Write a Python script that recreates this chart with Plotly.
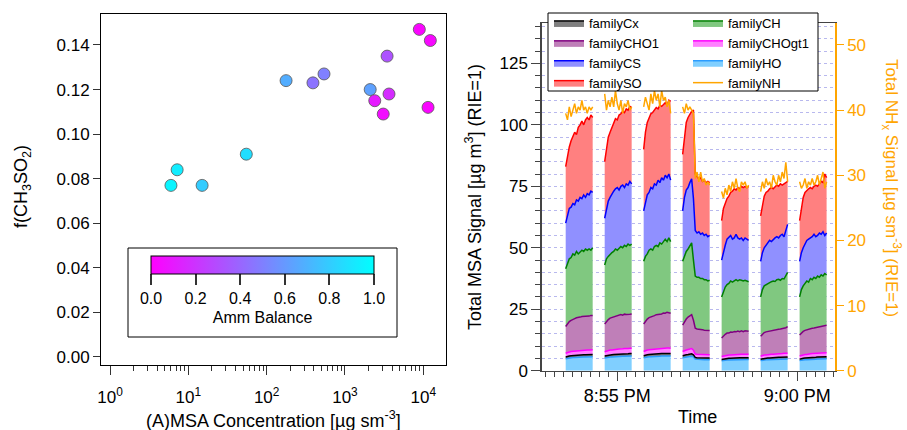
import plotly.graph_objects as go
from datetime import datetime, timedelta

# ---------------- Left panel data ----------------
msa_conc = [8900, 12300, 3450, 540, 390, 177, 2100, 2400, 3650, 3080, 11500, 55, 7.2, 6.0, 15]
f_ch3so2 = [0.147, 0.142, 0.135, 0.127, 0.123, 0.124, 0.120, 0.115, 0.118, 0.109, 0.112,
            0.091, 0.084, 0.077, 0.077]
amm_balance = [0.02, 0.03, 0.32, 0.50, 0.45, 0.68, 0.63, 0.10, 0.17, 0.05, 0.02,
               0.87, 0.93, 0.96, 0.80]
log_major_vals = [1, 10, 100, 1000, 10000]
log_major_text = ["10<sup>0</sup>", "10<sup>1</sup>", "10<sup>2</sup>", "10<sup>3</sup>", "10<sup>4</sup>"]
cbar_ticks = [0.0, 0.2, 0.4, 0.6, 0.8, 1.0]

# ---------------- Right panel data ----------------
base_date = "2019-09-20"
block_starts = ["20:53:34", "20:54:39", "20:55:44", "20:56:49", "20:57:54", "20:58:59", "21:00:04"]
t_offsets = [0, 3, 6, 9, 12, 15, 18, 21, 24, 27, 30, 33, 36, 39, 42, 45]

family_HO = [
    [4.9, 5.1, 5.2, 5.3, 5.4, 5.4, 5.5, 5.5, 5.5, 5.6, 5.6, 5.6, 5.6, 5.7, 5.7, 5.7],
    [5.2, 5.4, 5.5, 5.6, 5.6, 5.7, 5.7, 5.8, 5.8, 5.8, 5.9, 5.9, 5.9, 5.9, 6.0, 6.0],
    [5.3, 5.5, 5.6, 5.7, 5.7, 5.8, 5.8, 5.9, 5.9, 5.9, 6.0, 6.0, 6.0, 6.1, 6.1, 6.0],
    [5.3, 5.5, 5.6, 5.7, 5.8, 5.9, 5.6, 4.7, 4.6, 4.6, 4.6, 4.5, 4.5, 4.5, 4.5, 4.5],
    [4.0, 4.2, 4.3, 4.3, 4.4, 4.4, 4.5, 4.5, 4.5, 4.5, 4.6, 4.6, 4.6, 4.6, 4.6, 4.6],
    [4.1, 4.3, 4.4, 4.4, 4.5, 4.5, 4.6, 4.6, 4.6, 4.7, 4.7, 4.7, 4.7, 4.8, 4.8, 4.8],
    [4.1, 4.3, 4.4, 4.5, 4.5, 4.6, 4.6, 4.7, 4.7, 4.7, 4.8, 4.8, 4.8, 4.9, 4.9, 4.9],
]
family_Cx = [
    [0.7, 0.8, 0.8, 0.8, 0.8, 0.9, 0.8, 0.9, 0.9, 0.8, 0.9, 0.9, 0.9, 0.9, 0.9, 0.9],
    [0.8, 0.8, 0.9, 0.9, 0.9, 0.9, 0.9, 0.9, 1.0, 0.9, 1.0, 1.0, 1.0, 1.0, 1.0, 1.0],
    [0.8, 0.9, 0.9, 0.9, 1.0, 0.9, 1.0, 1.0, 1.0, 1.0, 1.0, 1.0, 1.0, 1.0, 1.0, 1.0],
    [0.8, 0.9, 0.9, 0.9, 1.0, 1.0, 0.9, 0.7, 0.7, 0.7, 0.7, 0.7, 0.7, 0.7, 0.7, 0.7],
    [0.6, 0.6, 0.6, 0.7, 0.7, 0.7, 0.7, 0.7, 0.7, 0.7, 0.7, 0.7, 0.7, 0.7, 0.7, 0.7],
    [0.6, 0.6, 0.7, 0.7, 0.7, 0.7, 0.7, 0.7, 0.7, 0.7, 0.8, 0.8, 0.8, 0.8, 0.8, 0.8],
    [0.6, 0.7, 0.7, 0.7, 0.7, 0.8, 0.8, 0.8, 0.8, 0.8, 0.8, 0.8, 0.8, 0.8, 0.8, 0.8],
]
family_CHOgt1 = [
    [1.5, 1.6, 1.6, 1.7, 1.7, 1.7, 1.8, 1.7, 1.8, 1.8, 1.8, 1.8, 1.9, 1.8, 1.9, 1.9],
    [1.7, 1.8, 1.8, 1.9, 1.9, 2.0, 1.9, 2.0, 2.0, 2.0, 2.0, 2.1, 2.0, 2.1, 2.1, 2.1],
    [1.7, 1.8, 1.9, 1.9, 1.9, 2.0, 2.0, 2.0, 2.0, 2.1, 2.0, 2.1, 2.1, 2.1, 2.1, 2.1],
    [1.7, 1.8, 1.9, 2.0, 2.0, 2.1, 1.8, 1.4, 1.4, 1.4, 1.3, 1.4, 1.3, 1.4, 1.3, 1.3],
    [1.2, 1.2, 1.3, 1.3, 1.3, 1.3, 1.3, 1.4, 1.4, 1.4, 1.4, 1.4, 1.4, 1.4, 1.4, 1.4],
    [1.2, 1.3, 1.3, 1.3, 1.4, 1.4, 1.4, 1.4, 1.4, 1.4, 1.4, 1.5, 1.5, 1.5, 1.5, 1.5],
    [1.3, 1.3, 1.4, 1.4, 1.4, 1.5, 1.5, 1.5, 1.5, 1.5, 1.5, 1.6, 1.6, 1.6, 1.6, 1.6],
]
family_CHO1 = [
    [10.9, 11.8, 12.4, 12.7, 13.1, 13.2, 13.4, 13.4, 13.6, 13.8, 13.7, 13.9, 13.9, 13.8, 14.0, 14.0],
    [11.3, 12.0, 12.6, 13.0, 13.2, 13.5, 13.6, 13.8, 13.7, 14.1, 13.7, 14.0, 14.0, 14.1, 13.9, 14.0],
    [11.2, 12.0, 12.6, 13.1, 13.2, 13.6, 13.6, 13.9, 14.0, 14.2, 14.1, 14.4, 14.3, 14.6, 14.5, 14.3],
    [10.7, 11.8, 12.6, 13.2, 13.5, 13.8, 12.2, 10.5, 10.3, 10.3, 10.2, 10.1, 10.0, 9.9, 9.8, 9.9],
    [7.5, 8.2, 8.6, 9.0, 8.9, 9.3, 9.1, 9.3, 9.2, 9.5, 9.2, 9.5, 9.2, 9.5, 9.3, 9.3],
    [8.1, 8.8, 9.1, 9.4, 9.4, 9.6, 9.7, 9.8, 9.9, 10.0, 10.0, 10.0, 10.1, 10.1, 10.4, 10.8],
    [8.5, 9.2, 9.5, 9.8, 10.1, 10.1, 10.3, 10.3, 10.4, 10.6, 10.7, 10.7, 10.8, 10.9, 11.1, 11.2],
]
family_CH = [
    [23.5, 24.7, 25.5, 25.5, 26.5, 25.8, 27.0, 26.0, 26.7, 27.0, 26.5, 27.3, 26.7, 27.3, 26.5, 27.5],
    [24.0, 25.5, 25.7, 26.1, 26.4, 26.4, 27.4, 26.5, 27.5, 27.7, 27.4, 28.0, 27.6, 28.4, 28.0, 28.4],
    [25.5, 26.3, 26.5, 27.4, 27.7, 26.7, 28.1, 28.2, 27.6, 28.8, 28.4, 29.0, 30.1, 28.7, 30.3, 29.1],
    [26.0, 27.0, 27.5, 27.7, 28.2, 29.2, 24.5, 21.2, 21.0, 21.0, 20.7, 20.8, 20.5, 20.5, 20.2, 20.4],
    [16.7, 18.3, 19.2, 19.7, 20.2, 20.8, 20.4, 20.6, 21.2, 20.4, 21.1, 20.6, 20.6, 20.6, 20.4, 20.2],
    [16.0, 18.0, 19.0, 19.2, 19.5, 19.8, 19.8, 20.0, 19.7, 20.2, 20.3, 19.8, 20.4, 20.1, 21.0, 22.1],
    [15.5, 17.5, 18.5, 19.1, 19.8, 19.0, 20.3, 19.7, 20.6, 19.9, 20.7, 20.1, 21.0, 20.3, 21.1, 20.5],
]
family_CS = [
    [18.5, 19.5, 20.5, 20.5, 20.5, 20.5, 21.0, 21.5, 22.0, 21.0, 23.0, 21.0, 23.0, 22.0, 24.0, 22.5],
    [19.0, 20.5, 22.5, 23.0, 24.0, 24.5, 24.5, 25.5, 23.5, 24.5, 25.5, 23.5, 25.5, 24.0, 26.0, 24.5],
    [20.5, 22.5, 24.0, 23.5, 25.0, 25.0, 25.5, 24.5, 27.0, 24.5, 27.0, 25.0, 26.0, 26.0, 26.0, 25.0],
    [20.5, 23.5, 25.0, 25.0, 26.0, 26.0, 25.0, 18.5, 18.0, 18.5, 18.0, 18.5, 18.0, 18.5, 18.0, 18.2],
    [15.0, 16.0, 17.0, 18.5, 19.0, 18.5, 17.5, 17.5, 18.5, 17.5, 16.5, 17.2, 16.5, 17.2, 17.1, 16.8],
    [14.5, 15.0, 15.5, 16.0, 16.5, 17.0, 16.3, 17.0, 17.7, 17.5, 16.8, 18.2, 18.0, 17.2, 18.5, 19.5],
    [14.5, 15.0, 15.5, 16.0, 16.5, 17.5, 16.5, 17.5, 17.5, 17.0, 16.5, 18.0, 16.5, 18.0, 15.5, 17.0],
]
family_SO = [
    [23.0, 24.5, 25.0, 27.0, 27.0, 29.5, 26.5, 30.0, 29.5, 31.5, 28.5, 31.5, 31.0, 30.5, 31.0, 30.5],
    [23.0, 25.0, 26.0, 26.5, 27.0, 28.0, 28.5, 27.5, 30.5, 29.5, 30.0, 30.5, 30.5, 30.5, 30.5, 31.0],
    [25.0, 28.0, 29.5, 30.5, 30.0, 31.0, 30.0, 31.5, 29.0, 31.5, 29.0, 31.0, 29.5, 29.5, 30.0, 32.0],
    [23.0, 25.5, 27.5, 28.5, 28.0, 27.5, 36.0, 23.0, 23.0, 21.5, 23.0, 21.0, 22.5, 21.0, 22.5, 21.5],
    [16.0, 17.5, 17.0, 16.5, 16.5, 17.5, 19.5, 20.0, 18.0, 20.5, 20.5, 21.0, 21.5, 21.0, 21.0, 22.0],
    [18.5, 20.0, 21.0, 21.5, 21.0, 21.0, 22.0, 20.5, 21.0, 21.0, 21.0, 21.0, 20.0, 21.5, 19.5, 17.5],
    [16.5, 19.0, 20.5, 21.0, 20.5, 20.5, 20.5, 19.5, 19.5, 21.0, 20.0, 20.0, 21.5, 20.0, 25.0, 22.5],
]
family_NH = [
    [39.5, 38.5, 40.5, 39.0, 40.0, 41.0, 39.5, 40.5, 40.0, 41.5, 40.0, 40.5, 39.5, 40.5, 40.0, 40.5],
    [42.5, 40.0, 41.5, 40.5, 42.0, 40.5, 43.0, 41.0, 40.0, 41.5, 39.5, 41.0, 40.5, 41.5, 40.0, 40.5],
    [40.5, 42.0, 41.0, 40.0, 42.5, 41.0, 43.0, 41.5, 42.5, 40.5, 43.0, 41.5, 42.0, 40.5, 41.5, 39.5],
    [40.5, 39.5, 41.0, 40.0, 40.5, 40.0, 39.5, 29.5, 30.5, 29.0, 30.5, 29.0, 29.5, 28.5, 29.0, 28.5],
    [27.5, 26.5, 28.0, 27.0, 28.5, 27.5, 29.0, 28.0, 29.5, 28.0, 27.5, 29.0, 28.5, 29.0, 28.0, 28.5],
    [27.5, 29.0, 28.0, 29.5, 28.5, 29.0, 28.0, 30.0, 29.0, 28.5, 30.0, 29.0, 30.5, 29.5, 32.0, 29.0],
    [29.0, 28.0, 28.5, 29.5, 28.0, 29.0, 28.5, 29.5, 28.5, 29.0, 30.0, 28.5, 29.5, 30.5, 28.0, 29.0],
]

# stacking order (bottom -> top): name, data, line colour, fill colour, legend column, rank
stack_layers = [
    ("familyHO", family_HO, "#2b9cff", "#80cfff", "legend2", 3),
    ("familyCx", family_Cx, "#000000", "#7f7f7f", "legend", 1),
    ("familyCHOgt1", family_CHOgt1, "#ff00ff", "#ff80ff", "legend2", 2),
    ("familyCHO1", family_CHO1, "#800080", "#bf7fb8", "legend", 2),
    ("familyCH", family_CH, "#008000", "#80c880", "legend2", 1),
    ("familyCS", family_CS, "#0000ff", "#9090ff", "legend", 3),
    ("familySO", family_SO, "#ff0000", "#ff8080", "legend", 4),
]
NH_COLOR = "#ffa500"

W, H = 907, 430
FONT = "Liberation Sans, Arial, sans-serif"


def px_x(p):
    return p / W


def px_y(p):
    return 1 - p / H


fig = go.Figure()

# ---- Left: scatter coloured by ammonium balance ----
fig.add_trace(go.Scatter(
    x=msa_conc, y=f_ch3so2, mode="markers", xaxis="x", yaxis="y", showlegend=False,
    marker=dict(
        size=12, color=amm_balance, cmin=0, cmax=1,
        colorscale=[[0, "#ff00ff"], [1, "#00ffff"]],
        line=dict(color="#555555", width=0.8),
        colorbar=dict(
            orientation="h", x=px_x(262.5), xanchor="center",
            y=px_y(256), yanchor="top", len=223, lenmode="pixels",
            thickness=18, thicknessmode="pixels", xpad=0, ypad=0,
            outlinewidth=1, outlinecolor="black", borderwidth=0,
            ticks="outside", ticklen=11, tickwidth=1.5, tickcolor="#333333",
            tickvals=cbar_ticks, tickformat=".1f",
            tickfont=dict(size=16, color="black", family=FONT),
            title=dict(text="Amm Balance", side="bottom", font=dict(size=16, color="black", family=FONT)),
        ),
    ),
))

# ---- Right: stacked family signals ----
for b, start in enumerate(block_starts):
    t0 = datetime.strptime(f"{base_date} {start}", "%Y-%m-%d %H:%M:%S")
    xs = [t0 + timedelta(seconds=s) for s in t_offsets]
    for name, data, lc, fc, leg, rank in stack_layers:
        fig.add_trace(go.Scatter(
            x=xs, y=data[b], mode="lines", stackgroup=f"blk{b}",
            line=dict(color=lc, width=1.5), fillcolor=fc,
            name=name, legendgroup=name, legend=leg, legendrank=rank, showlegend=(b == 0),
            xaxis="x2", yaxis="y2",
        ))
for b, start in enumerate(block_starts):
    t0 = datetime.strptime(f"{base_date} {start}", "%Y-%m-%d %H:%M:%S")
    xs = [t0 + timedelta(seconds=s) for s in t_offsets]
    fig.add_trace(go.Scatter(
        x=xs, y=family_NH[b], mode="lines", line=dict(color=NH_COLOR, width=1.5),
        name="familyNH", legendgroup="familyNH", legend="legend2", legendrank=4,
        showlegend=(b == 0), xaxis="x2", yaxis="y3",
    ))

grid_col = "#b8b8ee"
legend_common = dict(
    xanchor="left", yanchor="top", orientation="v", traceorder="normal",
    bgcolor="rgba(0,0,0,0)", borderwidth=0, font=dict(size=13, family=FONT), tracegroupgap=0,
)


def ann(text, x, y, angle=0, size=18, color="black"):
    return dict(text=text, x=px_x(x), y=px_y(y), xref="paper", yref="paper",
                xanchor="center", yanchor="middle", textangle=angle, showarrow=False,
                font=dict(size=size, color=color))


fig.update_layout(
    width=W, height=H,
    margin=dict(l=0, r=0, t=0, b=0, autoexpand=False),
    paper_bgcolor="white", plot_bgcolor="white",
    font=dict(family=FONT, size=17, color="black"),
    xaxis=dict(
        domain=[px_x(101), px_x(446)], anchor="y", type="log",
        range=[-0.115, 4.29], tickmode="array", tickvals=log_major_vals, ticktext=log_major_text,
        ticks="outside", ticklen=9, tickwidth=1, tickcolor="#333333", ticklabelstandoff=8,
        showline=True, linecolor="black", linewidth=1, mirror=True, showgrid=False,
        minor=dict(tickmode="array",
                   tickvals=[m * d for d in log_major_vals[:4] for m in range(2, 10)],
                   ticks="outside", ticklen=5, tickcolor="#333333", showgrid=False),
        tickfont=dict(size=17), automargin=False,
    ),
    yaxis=dict(
        domain=[px_y(365), px_y(14)], anchor="x", range=[-0.0036, 0.1539],
        dtick=0.02, tick0=0, tickformat=".2f",
        ticks="outside", ticklen=7, tickcolor="#333333",
        showline=True, linecolor="black", linewidth=1, mirror=True, showgrid=False,
        zeroline=False, tickfont=dict(size=17), automargin=False,
    ),
    xaxis2=dict(
        domain=[px_x(542), px_x(835)], anchor="y2", type="date",
        range=[f"{base_date} 20:52:54.5", f"{base_date} 21:01:03"],
        tick0=f"{base_date} 20:55:00", dtick=300000, tickformat="%-I:%M %p",
        ticks="outside", ticklen=9, tickcolor="#444444",
        minor=dict(dtick=15000, ticks="outside", ticklen=5, tickcolor="#444444", showgrid=False),
        showline=True, linecolor="#444444", linewidth=1, mirror=True, showgrid=False,
        tickfont=dict(size=18), automargin=False,
    ),
    yaxis2=dict(
        domain=[px_y(370.7), px_y(23.3)], anchor="x2", range=[0, 141.3],
        dtick=25, tick0=0, ticks="outside", ticklen=9, tickwidth=1.3, tickcolor="#444444",
        showline=True, linecolor="#444444", linewidth=1.5,
        showgrid=True, gridcolor=grid_col, griddash="dot", gridwidth=1,
        minor=dict(dtick=5, ticks="outside", ticklen=5, tickcolor="#444444",
                   showgrid=True, gridcolor=grid_col, griddash="dot", gridwidth=1),
        zeroline=False, tickfont=dict(size=17), automargin=False,
    ),
    yaxis3=dict(
        overlaying="y2", anchor="x2", side="right", range=[0, 53.33],
        dtick=10, tick0=0, ticks="outside", ticklen=7, tickcolor=NH_COLOR,
        showline=True, linecolor=NH_COLOR, linewidth=1.5, showgrid=False, zeroline=False,
        tickfont=dict(size=17, color=NH_COLOR), automargin=False,
    ),
    legend=dict(x=px_x(549), y=px_y(8), **legend_common),
    legend2=dict(x=px_x(688), y=px_y(8), **legend_common),
    shapes=[
        dict(type="rect", xref="paper", yref="paper",
             x0=px_x(128), x1=px_x(397), y0=px_y(337), y1=px_y(248),
             fillcolor="white", line=dict(color="black", width=1), layer="above"),
        dict(type="rect", xref="paper", yref="paper",
             x0=px_x(548), x1=px_x(818), y0=px_y(91), y1=px_y(13),
             fillcolor="white", line=dict(color="black", width=1), layer="above"),
    ],
    annotations=[
        ann("f(CH<sub>3</sub>SO<sub>2</sub>)", 22, 187, angle=-90),
        ann("(A)MSA Concentration [µg sm<sup>-3</sup>]", 273, 419),
        ann("Total MSA Signal [µg m<sup>3</sup>] (RIE=1)", 473, 197, angle=-90),
        ann("Total NH<sub>x</sub> Signal [µg sm<sup>-3</sup>] (RIE=1)", 892, 188, angle=90,
            size=17, color=NH_COLOR),
        ann("Time", 697, 417),
    ],
)

fig.write_html("out.html", config={"displayModeBar": False},
               post_script="document.body.style.margin='0';document.body.style.overflow='hidden';")
